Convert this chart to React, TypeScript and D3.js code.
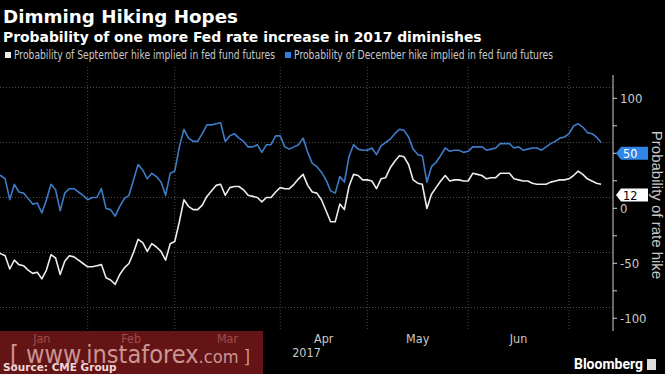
import React from "react";
import * as d3 from "d3";

// Trading-day series (index 0 = first trading day of Jan 2017)
const december: number[] = [
  21, 20, 17, -2, 12, 5, 4, -1, -6, -5, -14, -2, 12, 7, -12, 4, 8, 8, 5, 2,
  -2, 0, 0, 8, -10, -11, -17, -8, -1, 2, 16, 30, 25, 17, 22, 19, 14, 2, 22, 24,
  46, 62, 54, 51, 51, 58, 66, 66, 67, 68, 51, 56, 58, 54, 51, 46, 46, 48, 41, 48,
  48, 56, 56, 46, 44, 46, 48, 54, 41, 31, 28, 23, 16, 6, 4, 19, 14, 37, 48, 44,
  43, 43, 45, 39, 47, 50, 53, 58, 62, 61, 55, 44, 39, 38, 14, 28, 32, 38, 45, 42,
  43, 43, 41, 42, 46, 46, 46, 43, 44, 45, 49, 49, 49, 45, 46, 43, 44, 45, 45, 43,
  46, 49, 51, 54, 55, 58, 65, 67, 64, 59, 58, 55, 50,
];
const september: number[] = [
  -50, -51, -53, -65, -57, -61, -62, -66, -69, -68, -74, -66, -52, -55, -70, -58, -53, -54, -57, -60,
  -63, -63, -62, -61, -73, -75, -79, -70, -64, -60, -50, -38, -41, -49, -42, -45, -49, -57, -42, -40,
  -22, -2, -8, -11, -11, -7, 1, 6, 11, 12, 2, 9, 10, 10, 7, 2, 1, 0, -4, 0,
  0, 5, 9, 8, 8, 12, 17, 21, 11, 5, 4, -2, -12, -22, -22, -6, -11, 10, 21, 20,
  16, 16, 15, 8, 17, 18, 27, 33, 38, 37, 30, 16, 13, 12, -10, 3, 9, 15, 20, 15,
  16, 16, 15, 15, 22, 21, 20, 17, 18, 18, 22, 22, 22, 17, 16, 15, 15, 13, 12, 12,
  12, 14, 15, 16, 16, 17, 20, 24, 21, 17, 15, 13, 12,
];

const monthLabels = ["Jan", "Feb", "Mar", "Apr", "May", "Jun"];
const monthStarts = [0, 20, 39, 62, 81, 103, 125]; // trading-day index of month starts (Jul last)
const yearLabel = "2017";
const axisTicks = [100, 75, 50, 25, 0, -25, -50, -75, -100];
const axisLabels = [100, 50, 0, -50, -100];
const gridValues = [100, 50, 0, -50, -100];
const legendLabels = [
  "Probability of September hike implied in fed fund futures",
  "Probability of December hike implied in fed fund futures",
];

const W = 665;
const H = 374;
const AXIS_X = 613;
const BLUE = "#3f7cc8";
const WHITE = "#ececec";
const GRID = "#4a4a4a";
const TXT = "#c8c8c8";
const NARROW = "'Liberation Sans Narrow', 'DejaVu Sans Condensed', 'Roboto', sans-serif";
const BOLD = "'DejaVu Sans', 'Verdana', sans-serif";

export default function App() {
  const x = d3.scaleLinear().domain([0, 125]).range([-4, 569]);
  const yData = d3.scaleLinear().domain([-100, 100]).range([307.5, 87.5]);
  const yAxis = d3.scaleLinear().domain([-100, 100]).range([318.3, 98.3]);

  const line = d3
    .line<number>()
    .x((_, i) => x(i))
    .y((d) => yData(d));

  const lastDec = december[december.length - 1];
  const lastSep = september[september.length - 1];
  const tagYs = [yAxis(lastDec), yAxis(lastSep)];

  const tag = (v: number, fill: string, color: string) => {
    const cy = yAxis(v);
    const x0 = AXIS_X + 3;
    const h = 13;
    const w = 32;
    const p = `M${x0},${cy} L${x0 + 5},${cy - h / 2} L${x0 + w},${cy - h / 2} L${x0 + w},${cy + h / 2} L${x0 + 5},${cy + h / 2} Z`;
    return (
      <g key={"tag" + v}>
        <path d={p} fill={fill} />
        <text x={x0 + 7} y={cy + 4.5} fill={color} fontSize={12.5} fontFamily={NARROW}>
          {v}
        </text>
      </g>
    );
  };

  return (
    <div style={{ position: "fixed", left: 0, top: 0 }}>
      <svg width={W} height={H} style={{ display: "block", background: "#000" }}>
        <rect x={0} y={0} width={W} height={H} fill="#000" />
        <defs>
          <clipPath id="plotclip">
            <rect x={0} y={60} width={AXIS_X} height={280} />
          </clipPath>
        </defs>

        {/* titles */}
        <text x={3} y={23} fill="#fff" fontSize={18.3} fontWeight="bold" fontFamily={BOLD}>
          Dimming Hiking Hopes
        </text>
        <text x={3} y={42} fill="#fff" fontSize={13.9} fontWeight="bold" fontFamily={BOLD}>
          Probability of one more Fed rate increase in 2017 diminishes
        </text>

        {/* legend */}
        <rect x={5} y={52} width={6} height={6} fill={WHITE} />
        <text x={14} y={59} fill={TXT} fontSize={11.5} fontFamily={NARROW} textLength={261} lengthAdjust="spacingAndGlyphs">
          {legendLabels[0]}
        </text>
        <rect x={285} y={52} width={6} height={6} fill="#2f7fe0" />
        <text x={294} y={59} fill={TXT} fontSize={11.5} fontFamily={NARROW} textLength={259} lengthAdjust="spacingAndGlyphs">
          {legendLabels[1]}
        </text>

        {/* gridlines */}
        {gridValues.map((g) => (
          <line
            key={"h" + g}
            x1={0}
            x2={AXIS_X}
            y1={yData(g)}
            y2={yData(g)}
            stroke={GRID}
            strokeWidth={1}
            strokeDasharray="1,2"
          />
        ))}
        {monthStarts.slice(1).map((m) => (
          <line
            key={"v" + m}
            x1={x(m)}
            x2={x(m)}
            y1={67}
            y2={331}
            stroke={GRID}
            strokeWidth={1}
            strokeDasharray="1,2"
          />
        ))}

        {/* lines */}
        <g clipPath="url(#plotclip)">
          <path d={line(december) || ""} fill="none" stroke={BLUE} strokeWidth={1.6} strokeLinejoin="round" />
          <path d={line(september) || ""} fill="none" stroke={WHITE} strokeWidth={1.6} strokeLinejoin="round" />
        </g>

        {/* right axis */}
        <line x1={AXIS_X} x2={AXIS_X} y1={75} y2={331} stroke="#d0d0d0" strokeWidth={1} />
        {axisTicks.map((t) => (
          <line key={"t" + t} x1={AXIS_X} x2={AXIS_X + 4} y1={yAxis(t)} y2={yAxis(t)} stroke="#d0d0d0" />
        ))}
        {axisLabels
          .filter((t) => tagYs.every((ty) => Math.abs(ty - yAxis(t)) > 12))
          .map((t) => (
            <text key={"l" + t} x={AXIS_X + 7} y={yAxis(t) + 4.5} fill={TXT} fontSize={13} fontFamily={NARROW}>
              {t}
            </text>
          ))}
        {tag(lastDec, "#2f86e6", "#fff")}
        {tag(lastSep, "#ffffff", "#000")}
        <text
          transform={`translate(652, 205) rotate(90)`}
          textAnchor="middle"
          fill={TXT}
          fontSize={15}
          fontFamily="'Liberation Sans', 'Arial', sans-serif"
        >
          Probability of rate hike
        </text>

        {/* month labels */}
        {monthLabels.map((m, i) => (
          <text
            key={m}
            x={x((monthStarts[i] + monthStarts[i + 1]) / 2)}
            y={343}
            textAnchor="middle"
            fill={TXT}
            fontSize={12.5}
            fontFamily={NARROW}
          >
            {m}
          </text>
        ))}
        <text x={x(monthStarts[3]) + 12} y={357} fill={TXT} fontSize={12.5} fontFamily={NARROW}>
          {yearLabel}
        </text>

        {/* watermark */}
        <rect x={0} y={331} width={263} height={43} fill="#8a1c1c" opacity={0.72} />
        <text x={10} y={363} fill="#d9a3a3" fontSize={25} fontFamily="'Liberation Sans Narrow', 'DejaVu Sans Condensed', sans-serif" opacity={0.9} textLength={240} lengthAdjust="spacingAndGlyphs">
          [ www.instaforex<tspan fontSize={18}>.com ]</tspan>
        </text>
        <text x={3} y={371} fill="#f0d8d8" fontSize={10.5} fontWeight="bold" fontFamily={BOLD}>
          Source: CME Group
        </text>

        {/* Bloomberg */}
        <text x={643} y={369} textAnchor="end" fill="#fff" fontSize={14} fontWeight="bold" fontFamily="'Liberation Sans Narrow', 'Roboto', sans-serif">
          Bloomberg
        </text>
        <rect x={647} y={359} width={9} height={11} fill="#ddd" />
      </svg>
    </div>
  );
}
